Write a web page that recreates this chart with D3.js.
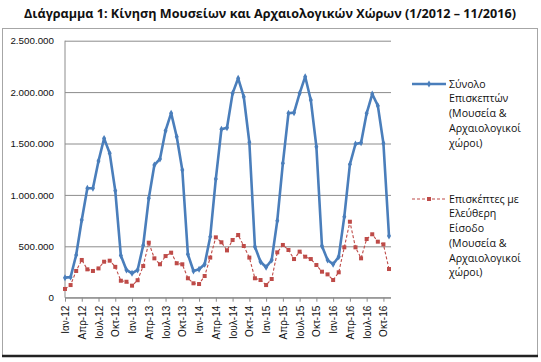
<!DOCTYPE html>
<html>
<head>
<meta charset="utf-8">
<script src="https://cdn.jsdelivr.net/npm/d3@7"></script>
<style>
  body { margin: 0; background: #fff; }
  svg { display: block; font-family: "Open Sans", "Noto Sans", sans-serif; }
</style>
</head>
<body>
<div id="chart"></div>
<script>
const width = 541;
const height = 362;

const months = [
  "Ιαν-12", "Φεβ-12", "Μαρ-12", "Απρ-12", "Μαϊ-12", "Ιουν-12", "Ιουλ-12", "Αυγ-12", "Σεπ-12", "Οκτ-12", "Νοε-12", "Δεκ-12",
  "Ιαν-13", "Φεβ-13", "Μαρ-13", "Απρ-13", "Μαϊ-13", "Ιουν-13", "Ιουλ-13", "Αυγ-13", "Σεπ-13", "Οκτ-13", "Νοε-13", "Δεκ-13",
  "Ιαν-14", "Φεβ-14", "Μαρ-14", "Απρ-14", "Μαϊ-14", "Ιουν-14", "Ιουλ-14", "Αυγ-14", "Σεπ-14", "Οκτ-14", "Νοε-14", "Δεκ-14",
  "Ιαν-15", "Φεβ-15", "Μαρ-15", "Απρ-15", "Μαϊ-15", "Ιουν-15", "Ιουλ-15", "Αυγ-15", "Σεπ-15", "Οκτ-15", "Νοε-15", "Δεκ-15",
  "Ιαν-16", "Φεβ-16", "Μαρ-16", "Απρ-16", "Μαϊ-16", "Ιουν-16", "Ιουλ-16", "Αυγ-16", "Σεπ-16", "Οκτ-16", "Νοε-16"
];

// labelled every 3 months
const tickLabels = [
  "Ιαν-12", "Απρ-12", "Ιουλ-12", "Οκτ-12", "Ιαν-13", "Απρ-13", "Ιουλ-13", "Οκτ-13",
  "Ιαν-14", "Απρ-14", "Ιουλ-14", "Οκτ-14", "Ιαν-15", "Απρ-15", "Ιουλ-15", "Οκτ-15",
  "Ιαν-16", "Απρ-16", "Ιουλ-16", "Οκτ-16"
];

const totalVisitors = [
  195000, 200000, 415000, 756000, 1064000, 1064000, 1330000, 1550000, 1405000, 1040000, 410000, 270000,
  237000, 270000, 510000, 967000, 1290000, 1350000, 1625000, 1795000, 1566000, 1242000, 422000, 260000,
  276000, 325000, 593000, 1155000, 1638000, 1654000, 1988000, 2134000, 1955000, 1512000, 496000, 350000,
  296000, 367000, 749000, 1307000, 1794000, 1800000, 1988000, 2150000, 1923000, 1469000, 503000, 367000,
  325000, 399000, 788000, 1297000, 1495000, 1508000, 1794000, 1981000, 1868000, 1502000, 600000
];

const freeVisitors = [
  85000, 123000, 260000, 367000, 276000, 260000, 285000, 350000, 360000, 300000, 165000, 155000,
  117000, 170000, 308000, 535000, 383000, 325000, 405000, 438000, 335000, 325000, 189000, 140000,
  133000, 211000, 390000, 587000, 539000, 460000, 561000, 610000, 503000, 390000, 189000, 172000,
  123000, 182000, 441000, 513000, 464000, 376000, 448000, 399000, 376000, 318000, 253000, 227000,
  172000, 247000, 490000, 739000, 490000, 383000, 571000, 617000, 545000, 519000, 279000
];

const yTicks = [0, 500000, 1000000, 1500000, 2000000, 2500000];

const seriesNames = [
  ["Σύνολο", "Επισκεπτών", "(Μουσεία &", "Αρχαιολογικοί", "χώροι)"],
  ["Επισκέπτες με", "Ελεύθερη", "Είσοδο", "(Μουσεία &", "Αρχαιολογικοί", "χώροι)"]
];

const blue = "#4a7ebb";
const red = "#be4b48";
const grid = "#8c8c8c";

const plot = { left: 65, right: 389, top: 40.7, bottom: 297.7 };

const svg = d3.select("#chart").append("svg")
  .attr("width", width)
  .attr("height", height);

// title
svg.append("text")
  .attr("x", 270)
  .attr("y", 18)
  .attr("text-anchor", "middle")
  .attr("font-size", 12.6)
  .attr("font-weight", "bold")
  .attr("fill", "#111")
  .text("Διάγραμμα 1: Κίνηση Μουσείων και Αρχαιολογικών Χώρων (1/2012 – 11/2016)");

// chart frame
svg.append("rect")
  .attr("x", 2.5).attr("y", 28.5)
  .attr("width", 535).attr("height", 327)
  .attr("fill", "none")
  .attr("stroke", "#a6a6a6");
svg.append("line")
  .attr("x1", 2).attr("x2", 538)
  .attr("y1", 356).attr("y2", 356)
  .attr("stroke", "#222").attr("stroke-width", 2.5);

const x = d3.scalePoint()
  .domain(months)
  .range([plot.left, plot.right]);

const y = d3.scaleLinear()
  .domain([0, 2500000])
  .range([plot.bottom, plot.top]);

const fmt = (d) => d3.format(",")(d).replace(/,/g, ".");

// gridlines + y labels
const yAxis = svg.append("g")
  .attr("transform", `translate(${plot.left},0)`)
  .call(d3.axisLeft(y).tickValues(yTicks).tickFormat(fmt)
    .tickSize(-(plot.right - plot.left + 2)).tickPadding(11));
yAxis.select(".domain").remove();
yAxis.selectAll(".tick line").attr("stroke", grid).attr("stroke-width", 1);
yAxis.selectAll(".tick text")
  .attr("font-size", 9.8)
  .attr("fill", "#111")
  .attr("font-family", "'Liberation Sans', Arial, sans-serif");

// y axis line
svg.append("line")
  .attr("x1", plot.left).attr("x2", plot.left)
  .attr("y1", plot.top).attr("y2", plot.bottom)
  .attr("stroke", grid);

// x axis
const xAxis = svg.append("g")
  .attr("transform", `translate(0,${plot.bottom})`)
  .call(d3.axisBottom(x).tickValues(tickLabels).tickSize(4).tickPadding(0));
xAxis.select(".domain")
  .attr("d", `M${plot.left},0H${plot.right + 2}`)
  .attr("stroke", grid);
xAxis.selectAll(".tick line").attr("stroke", grid);
xAxis.selectAll(".tick text")
  .attr("font-size", 10)
  .attr("fill", "#111")
  .attr("font-family", "'Liberation Sans', Arial, sans-serif")
  .attr("text-anchor", "end")
  .attr("x", 0)
  .attr("y", 0)
  .attr("dy", "0.35em")
  .attr("transform", "translate(0,8) rotate(-90)");

const line = d3.line()
  .x((d, i) => x(months[i]))
  .y((d) => y(d));

// free entry series (drawn first, under the blue one)
svg.append("path")
  .datum(freeVisitors)
  .attr("fill", "none")
  .attr("stroke", red)
  .attr("stroke-width", 1.1)
  .attr("stroke-dasharray", "3,2")
  .attr("d", line);

svg.append("g")
  .selectAll("rect")
  .data(freeVisitors)
  .join("rect")
  .attr("x", (d, i) => x(months[i]) - 2)
  .attr("y", (d) => y(d) - 2)
  .attr("width", 4)
  .attr("height", 4)
  .attr("fill", red);

// total series
svg.append("path")
  .datum(totalVisitors)
  .attr("fill", "none")
  .attr("stroke", blue)
  .attr("stroke-width", 2.6)
  .attr("stroke-linejoin", "round")
  .attr("d", line);

svg.append("g")
  .selectAll("path")
  .data(totalVisitors)
  .join("path")
  .attr("d", d3.symbol(d3.symbolDiamond, 14))
  .attr("transform", (d, i) => `translate(${x(months[i])},${y(d)})`)
  .attr("fill", blue);

// legend
const legendTop = [84, 199];
const legend = svg.append("g");

legend.append("line")
  .attr("x1", 412).attr("x2", 446)
  .attr("y1", legendTop[0]).attr("y2", legendTop[0])
  .attr("stroke", blue).attr("stroke-width", 2.6);
legend.append("path")
  .attr("d", d3.symbol(d3.symbolDiamond, 14))
  .attr("transform", `translate(429,${legendTop[0]})`)
  .attr("fill", blue);

legend.append("line")
  .attr("x1", 412).attr("x2", 446)
  .attr("y1", legendTop[1]).attr("y2", legendTop[1])
  .attr("stroke", red).attr("stroke-width", 1.1)
  .attr("stroke-dasharray", "3,2");
legend.append("rect")
  .attr("x", 427).attr("y", legendTop[1] - 2)
  .attr("width", 4).attr("height", 4)
  .attr("fill", red);

seriesNames.forEach((lines, k) => {
  legend.append("text")
    .attr("x", 449)
    .attr("y", legendTop[k])
    .attr("font-size", 10.6)
    .attr("fill", "#111")
    .selectAll("tspan")
    .data(lines)
    .join("tspan")
    .attr("x", 449)
    .attr("dy", (d, i) => (i === 0 ? "0.35em" : "14.7"))
    .text((d) => d);
});
</script>
</body>
</html>
